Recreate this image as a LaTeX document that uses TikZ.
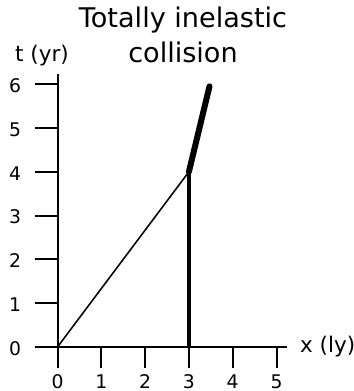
\documentclass[tikz,border=0pt]{standalone}
\usepackage{fontspec}
\setmainfont{DejaVu Sans}

\begin{document}
\begin{tikzpicture}[
  axisline/.style={line width=1.3pt},
  tickline/.style={line width=1.3pt},
  lightline/.style={line width=1.0pt},
  restline/.style={line width=2.2pt},
  mergedline/.style={line width=3.9pt, line cap=round},
  ticklbl/.style={inner sep=0pt, font=\fontsize{12.2}{14}\selectfont},
  axlbl/.style={inner sep=0pt, font=\fontsize{14}{16}\selectfont},
  ttl/.style={inner sep=0pt, align=center, font=\fontsize{17.6}{23}\selectfont},
]
\useasboundingbox (-1.313,-1.005) rectangle (6.747,7.922);

% ---------------- title ----------------
\node[ttl, anchor=north] (title) at (2.865,7.77) {Totally inelastic\\collision};

% ---------------- axes ----------------
\coordinate (O) at (0,0);
\coordinate (xlo) at (-0.51,0);
\coordinate (xhi) at (5.23,0);
\coordinate (ylo) at (0,-0.48);
\coordinate (yhi) at (0,6.23);
\draw[axisline] (xlo) -- (xhi);
\draw[axisline] (ylo) -- (yhi);

% ticks along x
\foreach \i in {1,...,5} {
  \coordinate (xt\i) at (\i,0);
  \coordinate (xb\i) at (\i,-0.48);
  \draw[tickline] (xt\i) -- (xb\i);
}
% ticks along t
\foreach \i in {1,...,6} {
  \coordinate (yt\i) at (0,\i);
  \coordinate (yb\i) at (-0.51,\i);
  \draw[tickline] (yt\i) -- (yb\i);
}

% tick labels
\foreach \i in {0,...,5}
  \node[ticklbl, anchor=base] (xl\i) at (\i,-0.94) {\i};
\foreach \i in {0,...,6}
  \node[ticklbl, anchor=base] (yl\i) at (-0.97,\i-0.19) {\i};

\node[axlbl, anchor=base] (tlbl) at (-0.354,6.507) {t (yr)};
\node[axlbl, anchor=base west] (xlbl) at (5.53,-0.137) {x (ly)};

% ---------------- world lines ----------------
\coordinate (P) at (3,0);
\coordinate (C) at (3,4);
\coordinate (F) at (3.47,5.95);
\draw[lightline] (O) -- (C);
\draw[restline] (P) -- (C);
\draw[mergedline] (C) -- (F);

\end{tikzpicture}
\end{document}
